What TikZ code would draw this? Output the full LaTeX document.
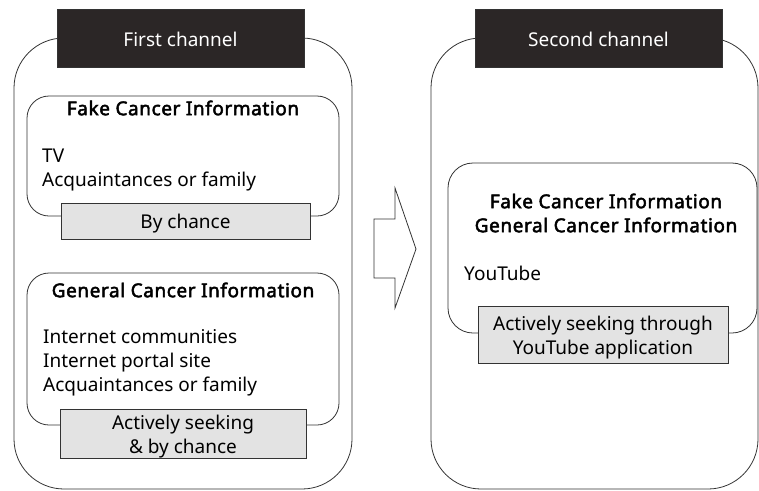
\documentclass[tikz,border=0pt]{standalone}
\usepackage{fontspec}
\setmainfont{Noto Sans}
\newfontfamily\headfont{Noto Sans}[FakeBold=2.5,LetterSpace=3]
\definecolor{titlefill}{HTML}{2B2626}
\definecolor{grayfill}{HTML}{E3E3E3}
\definecolor{linec}{HTML}{333333}
\tikzset{
  every node/.style={font=\fontsize{19}{24}\selectfont},
  outerbox/.style={draw=linec, line width=0.8pt, rounded corners=50pt, inner sep=0pt, outer sep=0pt},
  innerbox/.style={draw=linec, line width=0.8pt, rounded corners=22pt, fill=white, inner sep=0pt, outer sep=0pt},
  titlebox/.style={draw=linec, line width=0.8pt, fill=titlefill, inner sep=0pt, outer sep=0pt},
  titletext/.style={text=white, inner sep=0pt, align=center, yshift=-1pt},
  graybox/.style={draw=linec, line width=0.8pt, fill=grayfill, inner sep=0pt, outer sep=0pt},
  graytext/.style={inner sep=0pt, align=center, yshift=-3pt},
  headtext/.style={font=\headfont\fontsize{19}{24}\selectfont, inner sep=0pt, align=center},
  bodytext/.style={inner sep=0pt, anchor=west, align=left},
}
\begin{document}
\begin{tikzpicture}[x=1pt,y=-1pt]
\useasboundingbox (0,0) rectangle (759,490);
% left channel
\node[outerbox, minimum width=338pt, minimum height=451pt] (out1) at (183,263.5) {};
\node[titlebox, minimum width=247pt, minimum height=58pt] (t1) at (180.5,38) {};
\node[titletext] (t1t) at (t1.center) {First channel};
\node[innerbox, minimum width=312pt, minimum height=120pt] (fake1) at (183,156) {};
\node[headtext] (fake1h) at (183,108) {Fake Cancer Information};
\node[bodytext] (fake1b) at (42,170) {TV\\Acquaintances or family};
\node[graybox, minimum width=249pt, minimum height=36pt] (g1) at (185.5,221) {};
\node[graytext] (g1t) at (g1.center) {By chance};
\node[innerbox, minimum width=312pt, minimum height=152pt] (gen1) at (183,349) {};
\node[headtext] (gen1h) at (183,290) {General Cancer Information};
\node[bodytext] (gen1b) at (43,363) {Internet communities\\Internet portal site\\Acquaintances or family};
\node[graybox, minimum width=246pt, minimum height=49pt] (g2) at (183,433.5) {};
\node[graytext] (g2t) at (g2.center) {Actively seeking\\\& by chance};
% arrow
\draw[draw=linec, line width=0.8pt, fill=white] (374,219) coordinate (a1) -- (395,219) -- (395,188) -- (416,249) -- (395,308) -- (395,278) -- (374,278) -- cycle;
% right channel
\node[outerbox, minimum width=327pt, minimum height=451pt] (out2) at (594.5,263.5) {};
\node[titlebox, minimum width=247pt, minimum height=58pt] (t2) at (598.5,38) {};
\node[titletext] (t2t) at (t2.center) {Second channel};
\node[innerbox, rounded corners=25pt, minimum width=309pt, minimum height=170pt] (yt) at (602.5,248) {};
\node[headtext] (yth) at (606,213) {Fake Cancer Information\\General Cancer Information};
\node[bodytext] (ytb) at (464,273) {YouTube};
\node[graybox, minimum width=250pt, minimum height=57pt] (g3) at (603,334.5) {};
\node[graytext] (g3t) at (g3.center) {Actively seeking through\\YouTube application};
\end{tikzpicture}
\end{document}
